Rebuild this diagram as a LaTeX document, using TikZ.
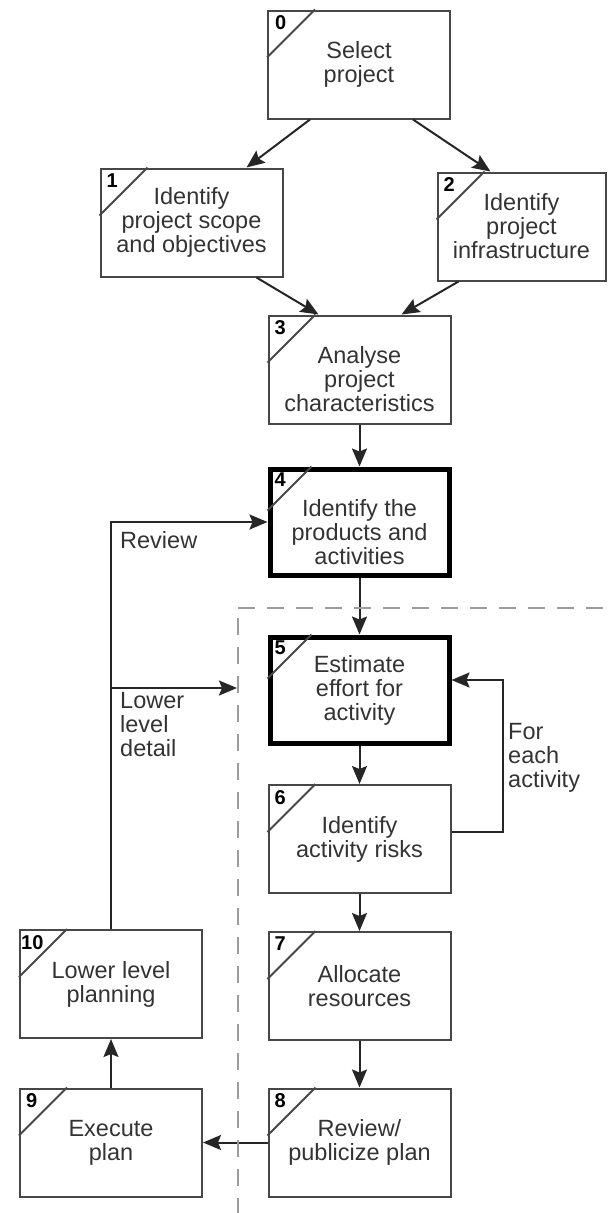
\documentclass[tikz,border=0pt]{standalone}
\usepackage{fontspec}
\setmainfont{Liberation Sans}
\usetikzlibrary{calc,positioning,arrows.meta}
\definecolor{boxline}{HTML}{474747}
\definecolor{boxtext}{HTML}{333333}
\definecolor{dashgray}{HTML}{9C9C9C}
\tikzset{stepbox/.style={draw=boxline,line width=2pt,rectangle,minimum width=182pt,minimum height=108pt,inner sep=2pt,align=center,text=boxtext,font=\fontsize{23.5}{24}\selectfont},
keybox/.style={stepbox,draw=black,line width=5pt,minimum width=179pt,minimum height=106pt}}

\begin{document}
\begin{tikzpicture}[x=1pt,y=-1pt,
	num/.style={anchor=north west,inner sep=0pt,font=\bfseries\fontsize{20}{20}\selectfont,text=black},
	lbl/.style={anchor=west,align=left,inner sep=0pt,text=boxtext,font=\fontsize{23.5}{24}\selectfont},
	flow/.style={draw=black!85,line width=2pt,-{Stealth[length=18pt,width=15pt,inset=3pt]}},
	dashbox/.style={draw=dashgray,line width=2.5pt,dash pattern=on 17pt off 12pt}]
	\useasboundingbox (0,0) rectangle (608,1213);

	\node[stepbox] (s0) at (359,64.5) {Select\\project};
	\node[stepbox] (s1) at (191.5,222.5) {Identify\\project scope\\and objectives};
	\node[stepbox,minimum width=168pt] (s2) at (521.5,226.5) {Identify\\project\\infrastructure};
	\node[stepbox,text height=84pt] (s3) at (359.5,369.5) {Analyse\\project\\characteristics};
	\node[keybox,text height=86pt] (s4) at (359.5,522) {Identify the\\products and\\activities};
	\node[keybox] (s5) at (359.5,690) {Estimate\\effort for\\activity};
	\node[stepbox] (s6) at (359.5,839) {Identify\\activity risks};
	\node[stepbox] (s7) at (359.5,986) {Allocate\\resources};
	\node[stepbox] (s8) at (359.5,1142.5) {Review/\\publicize plan};
	\node[stepbox] (s9) at (111,1142.5) {Execute\\plan};
	\node[stepbox] (s10) at (111,984) {Lower level\\planning};

	% step numbers in the corners
	\foreach \b/\n/\d/\o in {s0/0/48/8,s1/1/48/7,s2/2/48/7,s3/3/48/7,s4/4/44/7,s5/5/44/7,s6/6/48/7,s7/7/48/7,s8/8/48/7,s9/9/48/7,s10/10/48/2}{
		\draw[boxline,line width=2pt] ($(\b.north west)+(\d,0)$) -- ($(\b.north west)+(0,\d)$);
		\node[num] (n\n) at ($(\b.north west)+(\o,6)$) {\n};
	}

	\draw[flow] ([xshift=-49pt]s0.south) -- ([xshift=55pt]s1.north);
	\draw[flow] ([xshift=54pt]s0.south) -- ([xshift=-31pt]s2.north);
	\draw[flow] ([xshift=65pt]s1.south) -- ([xshift=-41pt]s3.north);
	\draw[flow] ([xshift=-63pt]s2.south) -- ([xshift=42pt]s3.north);
	\foreach \a/\b in {s3/s4,s4/s5,s5/s6,s6/s7,s7/s8,s8/s9,s9/s10}
		\draw[flow] (\a) -- (\b);

	% feedback loops
	\draw[flow] ([yshift=7pt]s6.east) -- ++(51,0) |- ([yshift=10pt]s5.east);
	\draw[flow] (s10.north) |- (s4.west);
	\coordinate (dl) at (237,688);
	\draw[flow] (s10.north |- dl) -- (dl);

	\node[lbl] (rev) at (120,540) {Review};
	\node[lbl] (lld) at (120,725) {Lower\\level\\detail};
	\node[lbl] (fea) at (508,758) {For\\each\\activity};

	% dashed frame round steps 5 to 8
	\coordinate (dc) at (238,608);
	\coordinate (dt) at (608,608);
	\coordinate (db) at (238,1213);
	\draw[dashbox] (dc) -- (dt);
	\draw[dashbox] ([yshift=-10pt]dc) -- (db);
\end{tikzpicture}
\end{document}
